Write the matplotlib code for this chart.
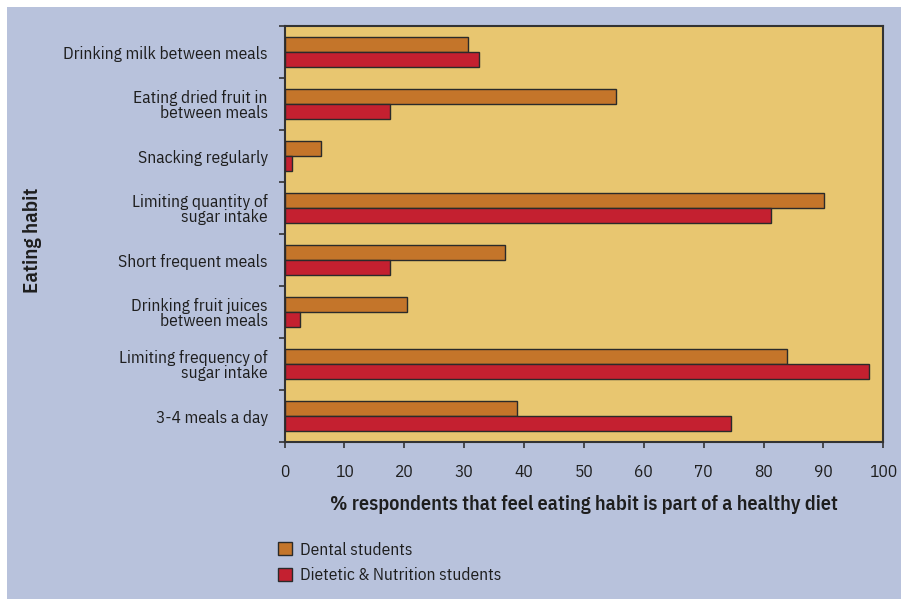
import matplotlib
matplotlib.use("Agg")
import matplotlib.pyplot as plt
from matplotlib.patches import Rectangle, Patch
import numpy as np

categories = [
    "Drinking milk between meals",
    "Eating dried fruit in\nbetween meals",
    "Snacking regularly",
    "Limiting quantity of\nsugar intake",
    "Short frequent meals",
    "Drinking fruit juices\nbetween meals",
    "Limiting frequency of\nsugar intake",
    "3-4 meals a day",
]
dental = [30.6, 55.3, 6.1, 90.1, 36.8, 20.4, 83.9, 38.9]
dietetic = [32.4, 17.6, 1.3, 81.3, 17.6, 2.6, 97.6, 74.5]
series_names = ["Dental students", "Dietetic & Nutrition students"]
xticks = list(range(0, 101, 10))

plt.rcParams['font.family'] = ['IBM Plex Sans Condensed', 'DejaVu Sans']
plt.rcParams['font.stretch'] = 'condensed'

BG = "#B8C2DC"
PLOT_BG = "#E8C670"
C_DENT = "#C4752A"
C_DIET = "#C42030"
EDGE = "#2A2A2A"
TXT = "#1E1E1E"

W, H = 901, 599
fig = plt.figure(figsize=(W / 100, H / 100), dpi=100, facecolor="white")
fig.patches.append(Rectangle((7 / W, 0), 1 - 7 / W, 1 - 7 / H, transform=fig.transFigure,
                             facecolor=BG, edgecolor="none", zorder=-10))

left, right, top, bottom = 284.5, 883.3, 26, 442
ax = fig.add_axes([left / W, 1 - bottom / H, (right - left) / W, (bottom - top) / H])
ax.set_facecolor(PLOT_BG)

n = len(categories)
y = np.arange(n)
h = 0.287
ax.barh(y - h / 2, dental, height=h, color=C_DENT, edgecolor=EDGE, linewidth=1.0, zorder=3)
ax.barh(y + h / 2, dietetic, height=h, color=C_DIET, edgecolor=EDGE, linewidth=1.0, zorder=3)

ax.set_ylim(n - 0.5, -0.5)
ax.set_xlim(0, 100)
ax.set_yticks(y)
ax.set_yticklabels(categories, ha="right", multialignment="right", fontsize=12.5, color=TXT, linespacing=0.95)
ax.set_yticks(np.arange(n + 1) - 0.5, minor=True)
ax.tick_params(axis="y", which="major", length=0, pad=12)
ax.tick_params(axis="y", which="minor", length=4, width=1.2, color="#333333")
ax.set_xticks(xticks)
ax.set_xticklabels([str(t) for t in xticks], fontsize=12.5, color=TXT)
ax.tick_params(axis="x", length=4, width=1.2, color="#333333", pad=12)
for s in ax.spines.values():
    s.set_color("#333333")
    s.set_linewidth(1.5)

ax.set_xlabel("% respondents that feel eating habit is part of a healthy diet",
              fontsize=14.5, fontweight="semibold", color=TXT, labelpad=11)
fig.text(33 / W, 1 - 240 / H, "Eating habit", rotation=90, ha="center", va="center",
         fontsize=15, fontweight="semibold", color=TXT)

handles = [Patch(facecolor=C_DENT, edgecolor=EDGE, linewidth=1.0),
           Patch(facecolor=C_DIET, edgecolor=EDGE, linewidth=1.0)]
fig.legend(handles, series_names, loc="upper left", bbox_to_anchor=(262 / W, 1 - 526 / H),
           frameon=False, fontsize=12.5, handlelength=0.8, handleheight=0.8,
           handletextpad=0.5, labelspacing=0.55, labelcolor=TXT)

fig.savefig("out.png", dpi=100, facecolor=fig.get_facecolor())
